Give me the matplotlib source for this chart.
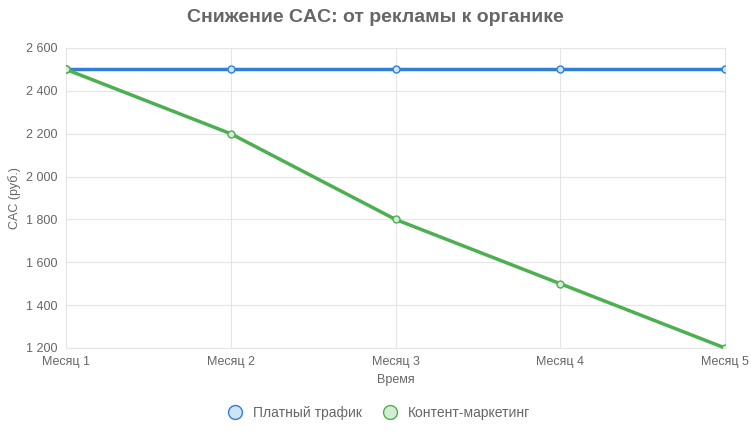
import matplotlib.pyplot as plt
from matplotlib.lines import Line2D

months = ['Месяц 1', 'Месяц 2', 'Месяц 3', 'Месяц 4', 'Месяц 5']
paid = [2500, 2500, 2500, 2500, 2500]
content = [2500, 2200, 1800, 1500, 1200]

plt.rcParams['font.family'] = ['Liberation Sans', 'DejaVu Sans']

fig = plt.figure(figsize=(7.51, 4.33), dpi=100)
ax = fig.add_axes([66/751, 1-348/433, (725-66)/751, 300/433])

x = range(len(months))
blue = '#2f7fd6'
green = '#4caf50'
ax.plot(x, paid, color=blue, lw=2.5, marker='o', ms=5, mfc='#cfe3f7', mec=blue, mew=1, zorder=3)
ax.plot(x, content, color=green, lw=2.5, marker='o', ms=5, mfc='#d3ecd4', mec=green, mew=1, zorder=3)

ax.set_xlim(0, 4)
ax.set_ylim(1200, 2600)
ax.set_xticks(list(x))
ax.set_xticklabels(months)
yt = list(range(1200, 2601, 200))
ax.set_yticks(yt)
ax.set_yticklabels([f'{v:,}'.replace(',', ' ') for v in yt])
ax.tick_params(colors='#666666', labelsize=9, length=0, pad=6)
ax.grid(color='#e5e5e5', lw=0.8)
for s in ax.spines.values():
    s.set_color('#e5e5e5')
ax.set_xlabel('Время', color='#666666', fontsize=9)
ax.set_ylabel('CAC (руб.)', color='#666666', fontsize=9)

fig.text(0.5, 1-18/433, 'Снижение CAC: от рекламы к органике', ha='center', va='center',
         fontsize=14, fontweight='bold', color='#666666')

handles = [Line2D([], [], ls='none', marker='o', ms=10, mfc='#cfe3f7', mec=blue),
           Line2D([], [], ls='none', marker='o', ms=10, mfc='#d3ecd4', mec=green)]
fig.legend(handles, ['Платный трафик', 'Контент-маркетинг'], loc='center',
           bbox_to_anchor=(0.5, 1-413/433), ncol=2, frameon=False, fontsize=10,
           labelcolor='#666666', handletextpad=0.3, columnspacing=1)

fig.savefig('out.png', dpi=100)
